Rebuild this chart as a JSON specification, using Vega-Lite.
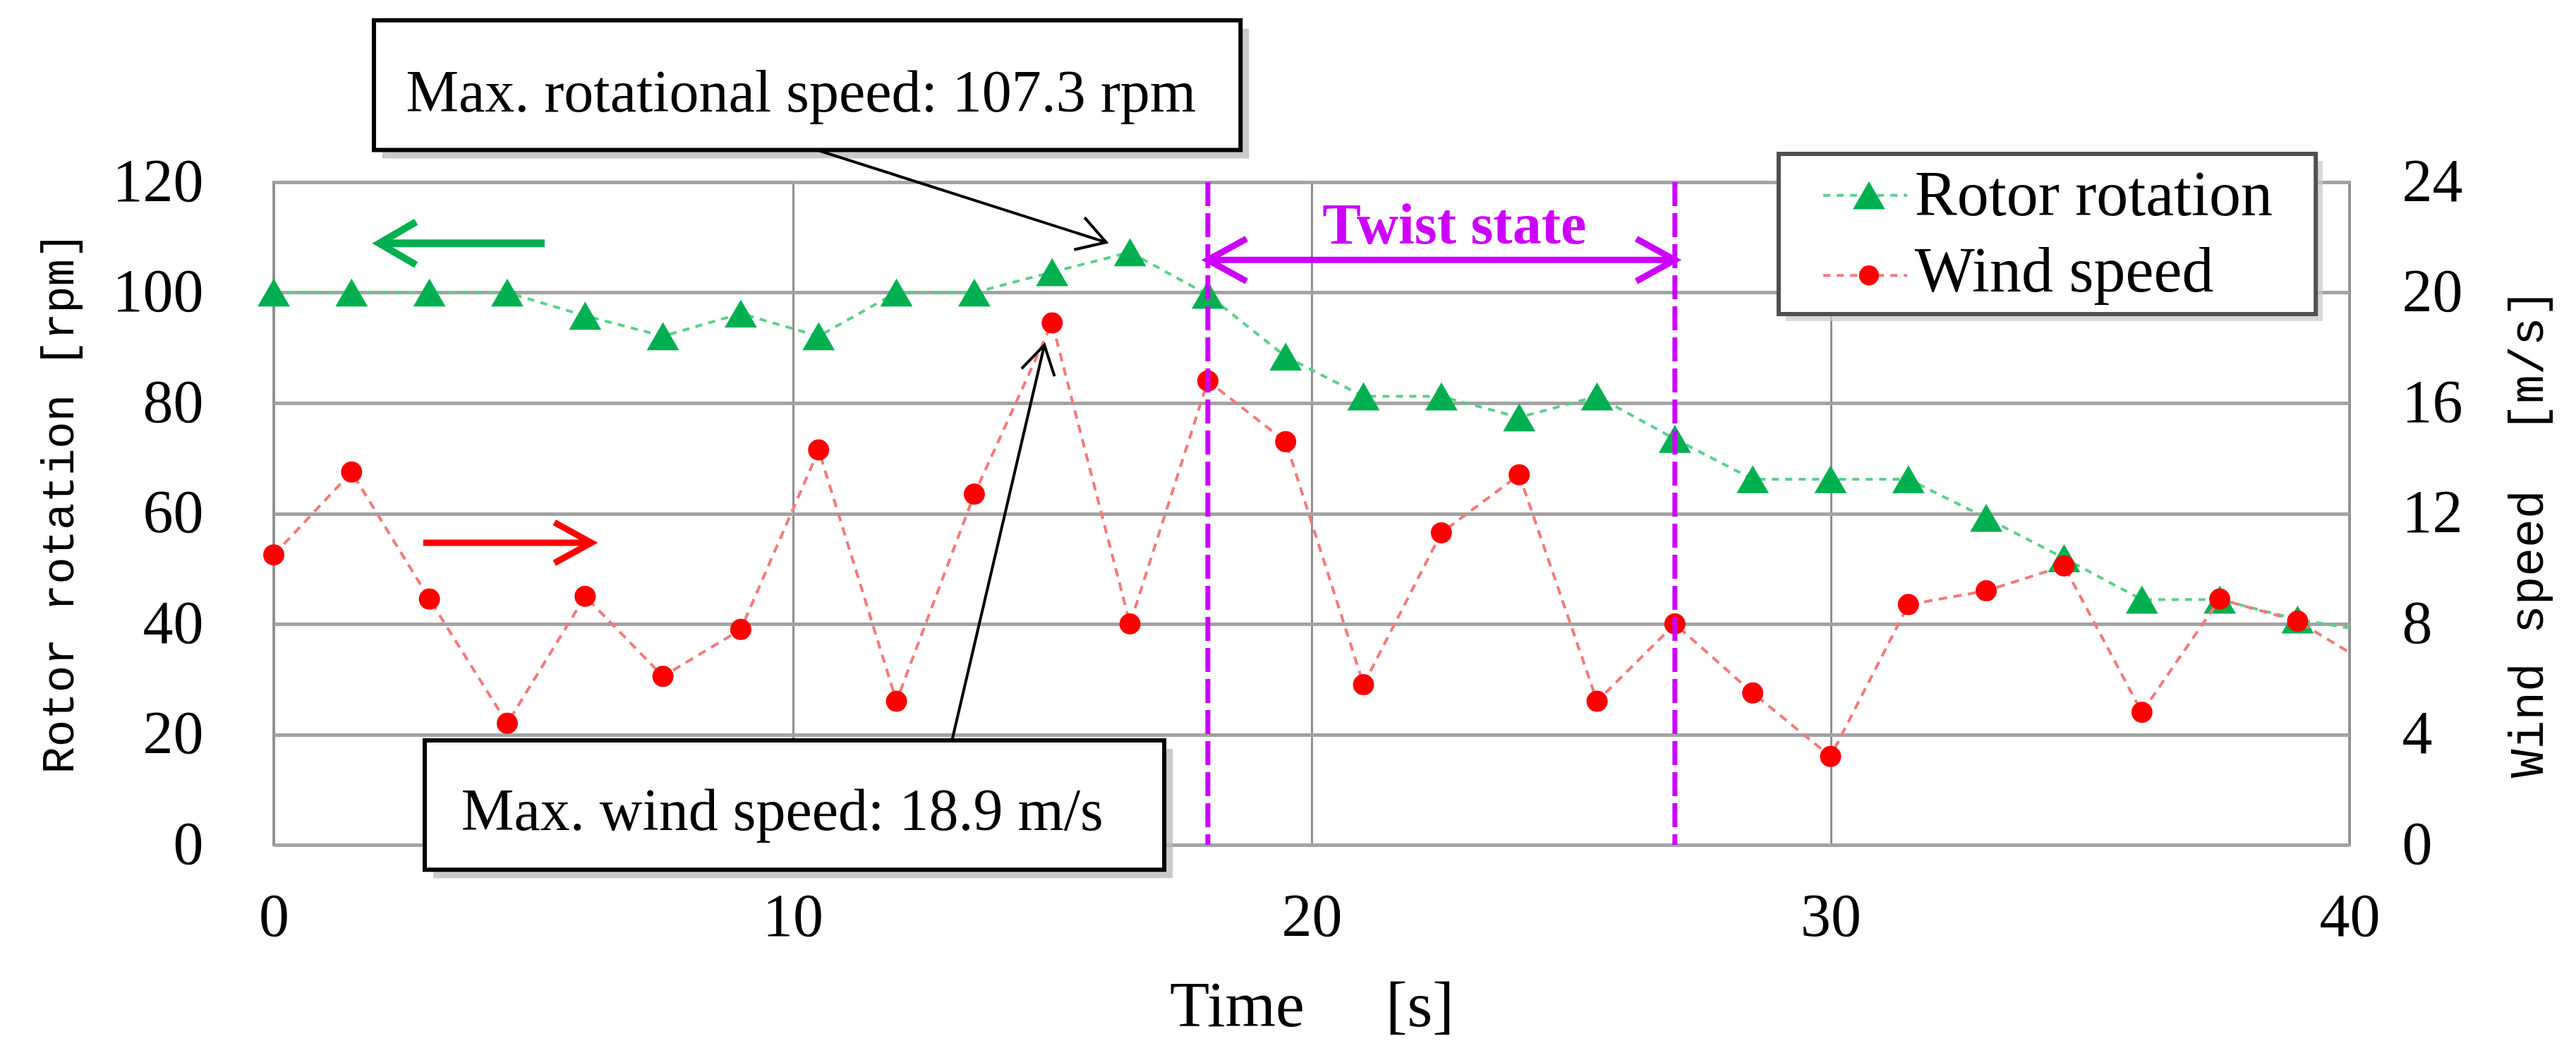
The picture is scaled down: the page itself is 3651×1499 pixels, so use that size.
{
  "$schema": "https://vega.github.io/schema/vega-lite/v6.json",
  "width": 2942,
  "height": 939,
  "autosize": {"type": "none"},
  "padding": {"left": 388, "top": 258, "right": 321, "bottom": 302},
  "background": "white",
  "config": {
    "view": {"stroke": "#9e9e9e", "strokeWidth": 4},
    "font": "Liberation Serif",
    "axis": {
      "ticks": false,
      "domain": false,
      "labelFlush": false,
      "labelFont": "Liberation Serif",
      "labelFontSize": 86,
      "labelColor": "black",
      "titleColor": "black",
      "titleFontWeight": "normal"
    }
  },
  "datasets": {
    "series": [
      {"t": 0, "rotor": 100, "wind": 10.5},
      {"t": 1.5, "rotor": 100, "wind": 13.5},
      {"t": 3, "rotor": 100, "wind": 8.9},
      {"t": 4.5, "rotor": 100, "wind": 4.4},
      {"t": 6, "rotor": 95.8, "wind": 9.0},
      {"t": 7.5, "rotor": 92.1, "wind": 6.1},
      {"t": 9, "rotor": 96.2, "wind": 7.8},
      {"t": 10.5, "rotor": 92.1, "wind": 14.3},
      {"t": 12, "rotor": 100, "wind": 5.2},
      {"t": 13.5, "rotor": 100, "wind": 12.7},
      {"t": 15, "rotor": 103.7, "wind": 18.9},
      {"t": 16.5, "rotor": 107.3, "wind": 8.0},
      {"t": 18, "rotor": 99.6, "wind": 16.8},
      {"t": 19.5, "rotor": 88.4, "wind": 14.6},
      {"t": 21, "rotor": 81.2, "wind": 5.8},
      {"t": 22.5, "rotor": 81.2, "wind": 11.3},
      {"t": 24, "rotor": 77.4, "wind": 13.4},
      {"t": 25.5, "rotor": 81.2, "wind": 5.2},
      {"t": 27, "rotor": 73.5, "wind": 8.0},
      {"t": 28.5, "rotor": 66.2, "wind": 5.5},
      {"t": 30, "rotor": 66.2, "wind": 3.2},
      {"t": 31.5, "rotor": 66.2, "wind": 8.7},
      {"t": 33, "rotor": 59.2, "wind": 9.2},
      {"t": 34.5, "rotor": 51.9, "wind": 10.1},
      {"t": 36, "rotor": 44.4, "wind": 4.8},
      {"t": 37.5, "rotor": 44.4, "wind": 8.9},
      {"t": 39, "rotor": 40.8, "wind": 8.1},
      {"t": 40.5, "rotor": 38.5, "wind": 6.4}
    ],
    "twist": [{"t": 18}, {"t": 27}],
    "twistArrow": [{"t": 18, "t2": 27, "v": 105.9}],
    "twistLabel": [{"t": 22.75, "v": 108.9, "label": "Twist state"}],
    "greenArrow": [{"t": 2.03, "t2": 5.22, "v": 108.9}],
    "redArrow": [{"t": 2.88, "t2": 6.12, "v": 54.7}],
    "boxes": [
      {"x1": 1.93, "x2": 18.63, "y1": 125.8, "y2": 149.3},
      {"x1": 2.91, "x2": 17.16, "y1": -4.5, "y2": 18.9}
    ],
    "legendBox": [{"x1": 29.0, "x2": 39.35, "y1": 96.1, "y2": 125.1}],
    "notes": [
      {"t": 10.16, "v": 132.8, "label": "Max. rotational speed: 107.3 rpm"},
      {"t": 9.8, "v": 2.7, "label": "Max. wind speed: 18.9 m/s"}
    ],
    "pointer1": [{"t": 10.47, "v": 125.8, "t2": 16.04, "v2": 109.1}],
    "pointer2": [{"t": 13.07, "v": 18.9, "t2": 14.85, "v2": 90.5}],
    "legendItems": [
      {"series": "Rotor rotation", "t": 29.86, "t2": 31.48, "tm": 30.74, "v": 117.6, "tx": 31.62, "vt": 114.0},
      {"series": "Wind speed", "t": 29.86, "t2": 31.48, "tm": 30.74, "v": 103.1, "tx": 31.62, "vt": 100.2}
    ]
  },
  "layer": [
    {
      "data": {"name": "series"},
      "encoding": {
        "x": {
          "field": "t",
          "type": "quantitative",
          "scale": {"domain": [0, 40], "nice": false},
          "axis": {
            "values": [0, 10, 20, 30, 40],
            "format": "d",
            "grid": true,
            "gridColor": "#8f8f8f",
            "gridWidth": 3,
            "labelPadding": 60,
            "title": "Time\u00a0\u00a0\u00a0\u00a0\u00a0[s]",
            "titleFont": "Liberation Serif",
            "titleFontSize": 92,
            "titleX": 1471,
            "titleY": 256,
            "titleAlign": "center",
            "titleBaseline": "alphabetic"
          }
        },
        "y": {
          "field": "rotor",
          "type": "quantitative",
          "scale": {"domain": [0, 120], "nice": false},
          "axis": {
            "orient": "left",
            "values": [0, 20, 40, 60, 80, 100, 120],
            "format": "d",
            "grid": true,
            "gridColor": "#a3a3a3",
            "gridWidth": 5,
            "labelPadding": 100,
            "title": "Rotor rotation [rpm]",
            "titleFont": "Liberation Mono",
            "titleFontSize": 64,
            "titleAngle": 270,
            "titleX": -285,
            "titleY": 454,
            "titleAlign": "center",
            "titleBaseline": "alphabetic"
          }
        }
      },
      "layer": [
        {
          "mark": {"type": "line", "color": "#5ccf8c", "strokeWidth": 4, "strokeDash": [10, 9], "clip": true}
        },
        {
          "transform": [{"filter": "datum.t <= 40"}],
          "mark": {"type": "point", "shape": "triangle-up", "filled": true, "color": "#00b050", "opacity": 1, "size": 2100}
        }
      ]
    },
    {
      "data": {"name": "series"},
      "encoding": {
        "x": {"field": "t", "type": "quantitative", "scale": {"domain": [0, 40], "nice": false}},
        "y": {
          "field": "wind",
          "type": "quantitative",
          "scale": {"domain": [0, 24], "nice": false},
          "axis": {
            "orient": "right",
            "values": [0, 4, 8, 12, 16, 20, 24],
            "format": "d",
            "grid": false,
            "labelPadding": 74,
            "title": "Wind speed\u00a0\u00a0[m/s]",
            "titleFont": "Liberation Mono",
            "titleFontSize": 68,
            "titleAngle": 270,
            "titleX": 273,
            "titleY": 497,
            "titleAlign": "center",
            "titleBaseline": "alphabetic"
          }
        }
      },
      "layer": [
        {
          "mark": {"type": "line", "color": "#f47a7a", "strokeWidth": 4, "strokeDash": [12, 9], "clip": true}
        },
        {
          "transform": [{"filter": "datum.t <= 40"}],
          "mark": {"type": "point", "shape": "circle", "filled": true, "color": "#ff0000", "opacity": 1, "size": 900}
        }
      ]
    },
    {
      "layer": [
        {
          "data": {"name": "twist"},
          "mark": {"type": "rule", "color": "#cc00ff", "strokeWidth": 7, "strokeDash": [34, 10]},
          "encoding": {
            "x": {"field": "t", "type": "quantitative", "scale": {"domain": [0, 40], "nice": false}}
          }
        },
        {
          "data": {"name": "twistArrow"},
          "mark": {"type": "rule", "color": "#cc00ff", "strokeWidth": 9},
          "encoding": {
            "x": {"field": "t", "type": "quantitative", "scale": {"domain": [0, 40], "nice": false}},
            "x2": {"field": "t2"},
            "y": {"field": "v", "type": "quantitative", "scale": {"domain": [0, 120], "nice": false}, "axis": null}
          }
        },
        {
          "data": {"name": "twistArrow"},
          "mark": {"type": "point", "shape": "M-1,-0.55L0,0L-1,0.55", "filled": false, "color": "#cc00ff", "strokeWidth": 9, "opacity": 1, "size": 12000, "angle": 180},
          "encoding": {
            "x": {"field": "t", "type": "quantitative", "scale": {"domain": [0, 40], "nice": false}},
            "y": {"field": "v", "type": "quantitative", "scale": {"domain": [0, 120], "nice": false}, "axis": null}
          }
        },
        {
          "data": {"name": "twistArrow"},
          "mark": {"type": "point", "shape": "M-1,-0.55L0,0L-1,0.55", "filled": false, "color": "#cc00ff", "strokeWidth": 9, "opacity": 1, "size": 12000},
          "encoding": {
            "x": {"field": "t2", "type": "quantitative", "scale": {"domain": [0, 40], "nice": false}},
            "y": {"field": "v", "type": "quantitative", "scale": {"domain": [0, 120], "nice": false}, "axis": null}
          }
        },
        {
          "data": {"name": "twistLabel"},
          "mark": {"type": "text", "font": "Liberation Serif", "fontWeight": "bold", "fontSize": 82, "color": "#cc00ff", "align": "center", "baseline": "alphabetic"},
          "encoding": {
            "x": {"field": "t", "type": "quantitative", "scale": {"domain": [0, 40], "nice": false}},
            "y": {"field": "v", "type": "quantitative", "scale": {"domain": [0, 120], "nice": false}, "axis": null},
            "text": {"field": "label"}
          }
        },
        {
          "data": {"name": "greenArrow"},
          "mark": {"type": "rule", "color": "#00b050", "strokeWidth": 11},
          "encoding": {
            "x": {"field": "t", "type": "quantitative", "scale": {"domain": [0, 40], "nice": false}},
            "x2": {"field": "t2"},
            "y": {"field": "v", "type": "quantitative", "scale": {"domain": [0, 120], "nice": false}, "axis": null}
          }
        },
        {
          "data": {"name": "greenArrow"},
          "mark": {"type": "point", "shape": "M-1,-0.58L0,0L-1,0.58", "filled": false, "color": "#00b050", "strokeWidth": 10, "opacity": 1, "size": 11000, "angle": 180},
          "encoding": {
            "x": {"field": "t", "type": "quantitative", "scale": {"domain": [0, 40], "nice": false}},
            "y": {"field": "v", "type": "quantitative", "scale": {"domain": [0, 120], "nice": false}, "axis": null}
          }
        },
        {
          "data": {"name": "redArrow"},
          "mark": {"type": "rule", "color": "#ff0000", "strokeWidth": 9},
          "encoding": {
            "x": {"field": "t", "type": "quantitative", "scale": {"domain": [0, 40], "nice": false}},
            "x2": {"field": "t2"},
            "y": {"field": "v", "type": "quantitative", "scale": {"domain": [0, 120], "nice": false}, "axis": null}
          }
        },
        {
          "data": {"name": "redArrow"},
          "mark": {"type": "point", "shape": "M-1,-0.55L0,0L-1,0.55", "filled": false, "color": "#ff0000", "strokeWidth": 9, "opacity": 1, "size": 11000},
          "encoding": {
            "x": {"field": "t2", "type": "quantitative", "scale": {"domain": [0, 40], "nice": false}},
            "y": {"field": "v", "type": "quantitative", "scale": {"domain": [0, 120], "nice": false}, "axis": null}
          }
        },
        {
          "data": {"name": "boxes"},
          "mark": {"type": "rect", "fill": "#b8b8b8", "opacity": 0.75, "xOffset": 12, "x2Offset": 12, "yOffset": 12, "y2Offset": 12},
          "encoding": {
            "x": {"field": "x1", "type": "quantitative", "scale": {"domain": [0, 40], "nice": false}},
            "x2": {"field": "x2"},
            "y": {"field": "y1", "type": "quantitative", "scale": {"domain": [0, 120], "nice": false}, "axis": null},
            "y2": {"field": "y2"}
          }
        },
        {
          "data": {"name": "legendBox"},
          "mark": {"type": "rect", "fill": "#c8c8c8", "opacity": 0.7, "xOffset": 10, "x2Offset": 10, "yOffset": 10, "y2Offset": 10},
          "encoding": {
            "x": {"field": "x1", "type": "quantitative", "scale": {"domain": [0, 40], "nice": false}},
            "x2": {"field": "x2"},
            "y": {"field": "y1", "type": "quantitative", "scale": {"domain": [0, 120], "nice": false}, "axis": null},
            "y2": {"field": "y2"}
          }
        },
        {
          "data": {"name": "boxes"},
          "mark": {"type": "rect", "fill": "white", "stroke": "black", "strokeWidth": 6},
          "encoding": {
            "x": {"field": "x1", "type": "quantitative", "scale": {"domain": [0, 40], "nice": false}},
            "x2": {"field": "x2"},
            "y": {"field": "y1", "type": "quantitative", "scale": {"domain": [0, 120], "nice": false}, "axis": null},
            "y2": {"field": "y2"}
          }
        },
        {
          "data": {"name": "legendBox"},
          "mark": {"type": "rect", "fill": "white", "stroke": "#505050", "strokeWidth": 6},
          "encoding": {
            "x": {"field": "x1", "type": "quantitative", "scale": {"domain": [0, 40], "nice": false}},
            "x2": {"field": "x2"},
            "y": {"field": "y1", "type": "quantitative", "scale": {"domain": [0, 120], "nice": false}, "axis": null},
            "y2": {"field": "y2"}
          }
        },
        {
          "data": {"name": "notes"},
          "mark": {"type": "text", "font": "Liberation Serif", "fontSize": 84, "color": "black", "align": "center", "baseline": "alphabetic"},
          "encoding": {
            "x": {"field": "t", "type": "quantitative", "scale": {"domain": [0, 40], "nice": false}},
            "y": {"field": "v", "type": "quantitative", "scale": {"domain": [0, 120], "nice": false}, "axis": null},
            "text": {"field": "label"}
          }
        },
        {
          "data": {"name": "pointer1"},
          "mark": {"type": "rule", "color": "black", "strokeWidth": 4},
          "encoding": {
            "x": {"field": "t", "type": "quantitative", "scale": {"domain": [0, 40], "nice": false}},
            "x2": {"field": "t2"},
            "y": {"field": "v", "type": "quantitative", "scale": {"domain": [0, 120], "nice": false}, "axis": null},
            "y2": {"field": "v2"}
          }
        },
        {
          "data": {"name": "pointer1"},
          "mark": {"type": "point", "shape": "M-1,-0.6L0,0L-1,0.6", "filled": false, "color": "black", "strokeWidth": 4, "opacity": 1, "size": 6400, "angle": 18},
          "encoding": {
            "x": {"field": "t2", "type": "quantitative", "scale": {"domain": [0, 40], "nice": false}},
            "y": {"field": "v2", "type": "quantitative", "scale": {"domain": [0, 120], "nice": false}, "axis": null}
          }
        },
        {
          "data": {"name": "pointer2"},
          "mark": {"type": "rule", "color": "black", "strokeWidth": 4},
          "encoding": {
            "x": {"field": "t", "type": "quantitative", "scale": {"domain": [0, 40], "nice": false}},
            "x2": {"field": "t2"},
            "y": {"field": "v", "type": "quantitative", "scale": {"domain": [0, 120], "nice": false}, "axis": null},
            "y2": {"field": "v2"}
          }
        },
        {
          "data": {"name": "pointer2"},
          "mark": {"type": "point", "shape": "M-1,-0.6L0,0L-1,0.6", "filled": false, "color": "black", "strokeWidth": 4, "opacity": 1, "size": 6400, "angle": 283},
          "encoding": {
            "x": {"field": "t2", "type": "quantitative", "scale": {"domain": [0, 40], "nice": false}},
            "y": {"field": "v2", "type": "quantitative", "scale": {"domain": [0, 120], "nice": false}, "axis": null}
          }
        },
        {
          "data": {"name": "legendItems"},
          "mark": {"type": "rule", "strokeWidth": 4, "strokeDash": [10, 9]},
          "encoding": {
            "x": {"field": "t", "type": "quantitative", "scale": {"domain": [0, 40], "nice": false}},
            "x2": {"field": "t2"},
            "y": {"field": "v", "type": "quantitative", "scale": {"domain": [0, 120], "nice": false}, "axis": null},
            "color": {"field": "series", "type": "nominal", "scale": {"domain": ["Rotor rotation", "Wind speed"], "range": ["#5ccf8c", "#f47a7a"]}, "legend": null}
          }
        },
        {
          "data": {"name": "legendItems"},
          "transform": [{"filter": "datum.series === 'Rotor rotation'"}],
          "mark": {"type": "point", "shape": "triangle-up", "filled": true, "color": "#00b050", "opacity": 1, "size": 2100},
          "encoding": {
            "x": {"field": "tm", "type": "quantitative", "scale": {"domain": [0, 40], "nice": false}},
            "y": {"field": "v", "type": "quantitative", "scale": {"domain": [0, 120], "nice": false}, "axis": null}
          }
        },
        {
          "data": {"name": "legendItems"},
          "transform": [{"filter": "datum.series === 'Wind speed'"}],
          "mark": {"type": "point", "shape": "circle", "filled": true, "color": "#ff0000", "opacity": 1, "size": 800},
          "encoding": {
            "x": {"field": "tm", "type": "quantitative", "scale": {"domain": [0, 40], "nice": false}},
            "y": {"field": "v", "type": "quantitative", "scale": {"domain": [0, 120], "nice": false}, "axis": null}
          }
        },
        {
          "data": {"name": "legendItems"},
          "mark": {"type": "text", "font": "Liberation Serif", "fontSize": 90, "color": "black", "align": "left", "baseline": "alphabetic"},
          "encoding": {
            "x": {"field": "tx", "type": "quantitative", "scale": {"domain": [0, 40], "nice": false}},
            "y": {"field": "vt", "type": "quantitative", "scale": {"domain": [0, 120], "nice": false}, "axis": null},
            "text": {"field": "series"}
          }
        }
      ]
    }
  ],
  "resolve": {"scale": {"y": "independent"}}
}
